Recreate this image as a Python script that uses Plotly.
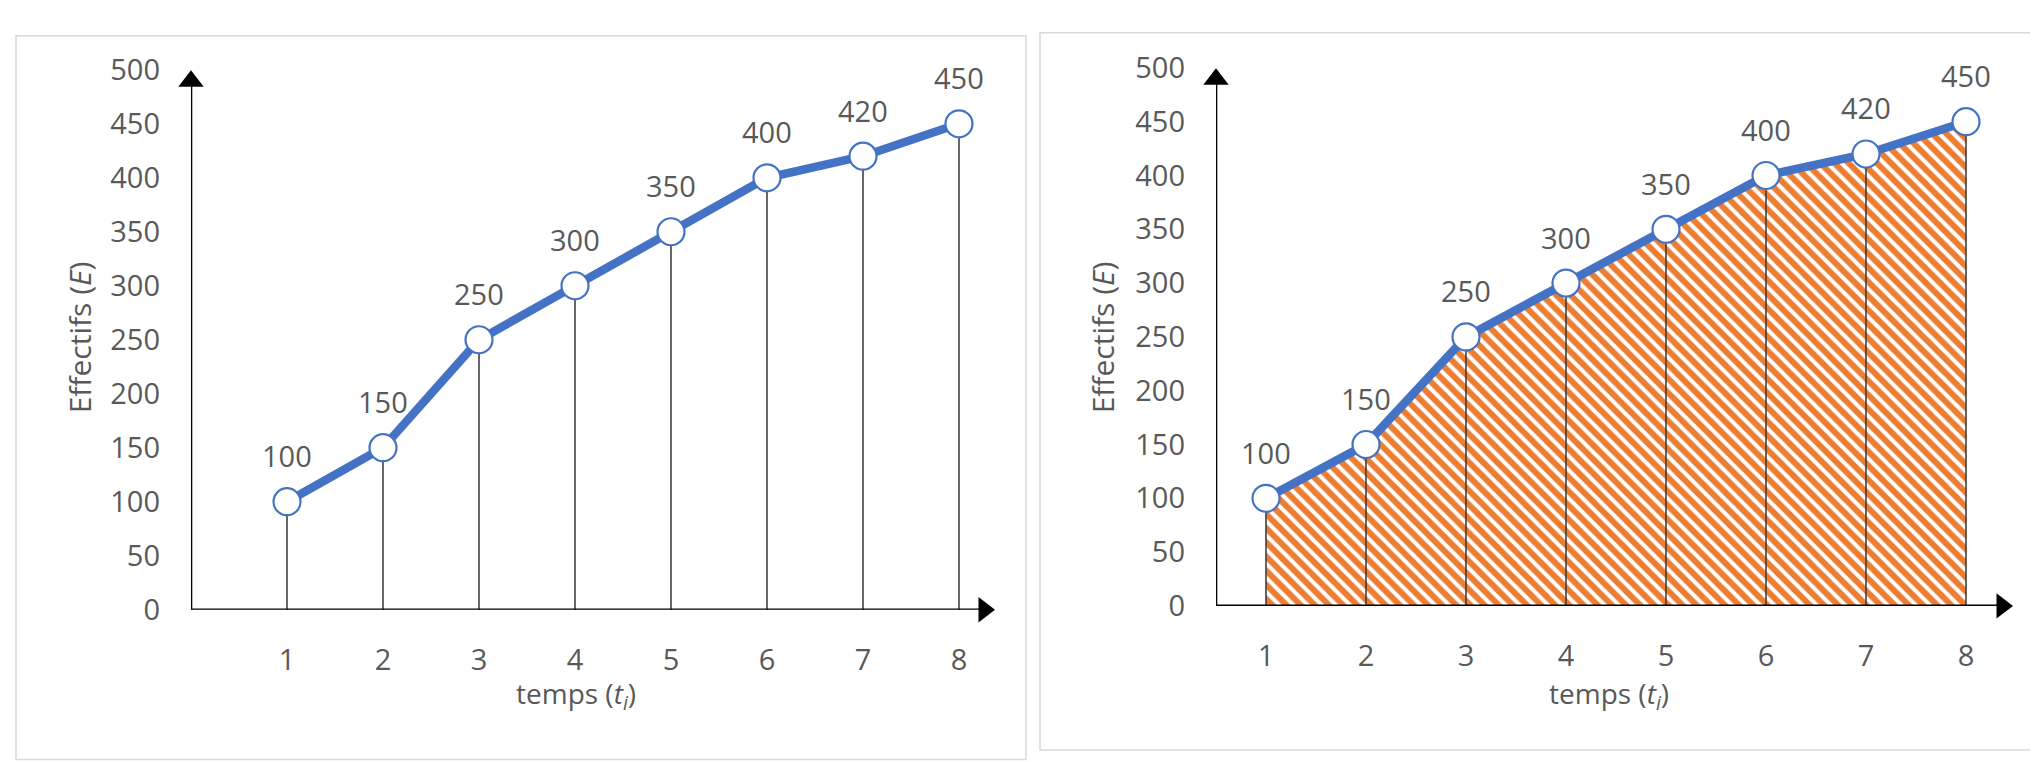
import plotly.graph_objects as go

W, H = 2038, 762

# ---- data ----
temps = [1, 2, 3, 4, 5, 6, 7, 8]
effectifs = [100, 150, 250, 300, 350, 400, 420, 450]
y_ticks = [0, 50, 100, 150, 200, 250, 300, 350, 400, 450, 500]
x_title = "temps (<i>t<sub>i</sub></i>)"
y_title = "Effectifs (<i>E</i>)"

BLUE = "#4472C4"
ORANGE = "#ED7D31"
GREY_TXT = "#595959"
FONT = "Open Sans"
FS = 29


def px_x(p):
    return p / W


def px_y(p):
    return 1 - p / H


fig = go.Figure()

panels = [
    dict(xa="x", ya="y", xname="xaxis", yname="yaxis",
         left=183, x0=0.0, unit=96.0, tip_x=987, tip_y=44,
         y0px=612, y500px=43, hatch=False,
         border=(8, 7, 1018, 770), ytitle_x=71, xtitle_x=568),
    dict(xa="x2", ya="y2", xname="xaxis2", yname="yaxis2",
         left=1208, x0=0.5, unit=100.0, tip_x=2005, tip_y=42,
         y0px=608, y500px=41, hatch=True,
         border=(1032, 4, 2036, 760), ytitle_x=1094, xtitle_x=1601),
]

shapes = []
annotations = []
ARROW = 22  # arrowhead marker size (px)

for p in panels:
    xa, ya = p["xa"], p["ya"]
    x_lo = p["x0"]
    x_hi = 8.6
    dom_x = [px_x(p["left"]), px_x(p["left"] + (x_hi - x_lo) * p["unit"])]
    dom_y = [px_y(p["y0px"]), px_y(p["y500px"])]
    yunit = (p["y0px"] - p["y500px"]) / 500.0  # px per data unit

    fig.layout[p["xname"]] = dict(
        domain=dom_x, range=[x_lo, x_hi], anchor=ya,
        showgrid=False, zeroline=False, showline=False,
        tickmode="array", tickvals=temps, ticktext=[str(t) for t in temps],
        ticks="", ticklabelstandoff=30,
        tickfont=dict(family=FONT, size=FS, color=GREY_TXT),
    )
    fig.layout[p["yname"]] = dict(
        domain=dom_y, range=[0, 500], anchor=xa,
        showgrid=False, zeroline=False, showline=False,
        tickmode="array", tickvals=y_ticks, ticktext=[str(v) for v in y_ticks],
        ticks="", ticklabelstandoff=30,
        tickfont=dict(family=FONT, size=FS, color=GREY_TXT),
    )

    if p["hatch"]:
        fig.add_trace(go.Scatter(
            x=temps, y=effectifs, xaxis=xa, yaxis=ya, mode="lines",
            line=dict(width=0, color=ORANGE), fill="tozeroy",
            fillcolor="white",
            fillpattern=dict(shape="\\", fgcolor=ORANGE, bgcolor="white",
                             size=10, solidity=0.6, fillmode="replace"),
            hoverinfo="skip", showlegend=False,
        ))

    vx, vy = [], []
    for t, e in zip(temps, effectifs):
        vx += [t, t, None]
        vy += [0, e, None]
    fig.add_trace(go.Scatter(
        x=vx, y=vy, xaxis=xa, yaxis=ya, mode="lines",
        line=dict(color="#404040", width=1.6),
        hoverinfo="skip", showlegend=False,
    ))

    fig.add_trace(go.Scatter(
        x=temps, y=effectifs, xaxis=xa, yaxis=ya, mode="lines+markers",
        line=dict(color=BLUE, width=8.5),
        marker=dict(size=27, color="white", line=dict(color=BLUE, width=2.2)),
        showlegend=False, cliponaxis=False,
    ))

    # axis lines
    x_tip = x_lo + (p["tip_x"] - p["left"]) / p["unit"]
    y_tip = (p["y0px"] - p["tip_y"]) / yunit
    head = ARROW / 2.0  # px from tip to marker centre
    shapes.append(dict(
        type="line", xref=xa, yref=ya, x0=x_lo, y0=0,
        x1=x_tip - head / p["unit"], y1=0,
        line=dict(color="black", width=2.6), layer="above",
    ))
    shapes.append(dict(
        type="line", xref=xa, yref=ya, x0=x_lo, y0=0,
        x1=x_lo, y1=y_tip - head / yunit,
        line=dict(color="black", width=2.6), layer="above",
    ))
    # arrowheads
    fig.add_trace(go.Scatter(
        x=[x_tip - head / p["unit"], x_lo],
        y=[0, y_tip - head / yunit],
        xaxis=xa, yaxis=ya, mode="markers",
        marker=dict(symbol=["triangle-right", "triangle-up"], size=ARROW,
                    color="black", line=dict(width=0)),
        hoverinfo="skip", showlegend=False, cliponaxis=False,
    ))

    for t, e in zip(temps, effectifs):
        annotations.append(dict(
            x=t, y=e, xref=xa, yref=ya, text=str(e), showarrow=False,
            yshift=46, yanchor="middle",
            font=dict(family=FONT, size=FS, color=GREY_TXT),
        ))

    annotations.append(dict(
        x=px_x(p["xtitle_x"]), y=px_y(702), xref="paper", yref="paper",
        text=x_title, showarrow=False, xanchor="center", yanchor="middle",
        font=dict(family=FONT, size=FS - 1, color=GREY_TXT),
    ))
    annotations.append(dict(
        x=px_x(p["ytitle_x"]), y=px_y(325), xref="paper", yref="paper",
        text=y_title, showarrow=False, textangle=-90,
        xanchor="center", yanchor="middle",
        font=dict(family=FONT, size=FS + 1, color=GREY_TXT),
    ))

    bx0, by0, bx1, by1 = p["border"]
    shapes.append(dict(
        type="rect", xref="paper", yref="paper",
        x0=px_x(bx0), x1=px_x(bx1), y0=px_y(by1), y1=px_y(by0),
        line=dict(color="#D9D9D9", width=1.5), fillcolor="rgba(0,0,0,0)",
        layer="below",
    ))

fig.update_layout(
    width=W, height=H,
    margin=dict(l=0, r=0, t=0, b=0),
    paper_bgcolor="white", plot_bgcolor="rgba(0,0,0,0)",
    shapes=shapes, annotations=annotations,
    showlegend=False,
    font=dict(family=FONT, color=GREY_TXT),
)

fig.write_html("out.html")
